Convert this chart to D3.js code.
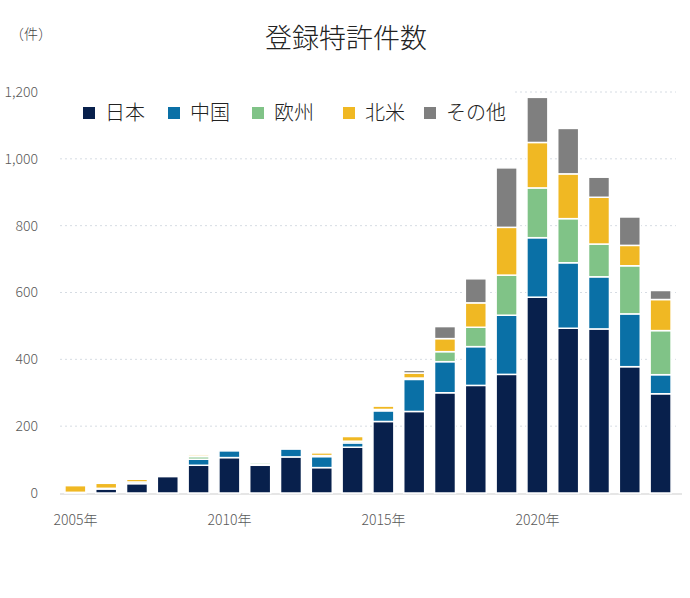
<!DOCTYPE html>
<html>
<head>
<meta charset="utf-8">
<script src="https://cdn.jsdelivr.net/npm/d3@7"></script>
<style>
  body { margin: 0; background: #fff; }
  svg text { font-family: "Noto Sans CJK JP", "Noto Sans", sans-serif; }
</style>
</head>
<body>
<div id="chart"></div>
<script>
const years = [2005, 2006, 2007, 2008, 2009, 2010, 2011, 2012, 2013, 2014,
               2015, 2016, 2017, 2018, 2019, 2020, 2021, 2022, 2023, 2024];
const regions = ['日本', '中国', '欧州', '北米', 'その他'];
const japan        = [2, 12, 28, 49, 83, 106, 83, 108, 76, 137, 214, 244, 300, 322, 355, 586, 493, 491, 378, 297];
const china        = [0, 2, 5, 0, 18, 20, 4, 24, 33, 13, 32, 96, 93, 116, 177, 178, 196, 156, 158, 57];
const europe       = [0, 0, 0, 0, 8, 0, 5, 3, 3, 5, 4, 4, 30, 58, 120, 149, 132, 98, 144, 132];
const northAmerica = [20, 15, 8, 0, 5, 0, 0, 0, 8, 14, 10, 15, 39, 73, 143, 136, 134, 140, 61, 93];
const others       = [0, 0, 0, 0, 0, 0, 0, 0, 0, 0, 0, 8, 36, 72, 178, 135, 136, 60, 85, 27];
const yTicks = [0, 200, 400, 600, 800, 1000, 1200];
const xLabelYears = [2005, 2010, 2015, 2020];

const colors = ['#08204c', '#0a70a6', '#80c387', '#f0b823', '#7f7f7f'];

const width = 690, height = 598;
const svg = d3.select('#chart').append('svg')
    .attr('width', width)
    .attr('height', height);

// build table for stack
const table = years.map((y, i) => ({
    year: y,
    '日本': japan[i], '中国': china[i], '欧州': europe[i], '北米': northAmerica[i], 'その他': others[i]
}));
const series = d3.stack().keys(regions)(table);

const x = d3.scaleBand().domain(years).range([60, 676]).paddingInner(0.32).paddingOuter(0.16);
const y = d3.scaleLinear().domain([0, 1200]).range([493, 92]);

// gridlines
svg.append('g').selectAll('line')
    .data(yTicks.filter(d => d > 0))
    .enter().append('line')
    .attr('x1', 60).attr('x2', 676)
    .attr('y1', d => y(d)).attr('y2', d => y(d))
    .attr('stroke', '#d6dce3')
    .attr('stroke-width', 1)
    .attr('stroke-dasharray', '2,3');

// baseline
svg.append('line')
    .attr('x1', 60).attr('x2', 682)
    .attr('y1', y(0) + 1).attr('y2', y(0) + 1)
    .attr('stroke', '#e6e6e6')
    .attr('stroke-width', 2);

// y axis
const yAxis = svg.append('g')
    .attr('transform', 'translate(38,0)')
    .call(d3.axisLeft(y).tickValues(yTicks).tickFormat(d3.format(',')).tickSize(0).tickPadding(0));
yAxis.select('.domain').remove();
yAxis.selectAll('text')
    .attr('fill', '#595959')
    .style('font-size', '14px')
    .style('font-weight', 300);

// x axis
const xAxis = svg.append('g')
    .attr('transform', 'translate(0,515)')
    .call(d3.axisBottom(x).tickValues(xLabelYears).tickFormat(d => d + '年').tickSize(0).tickPadding(0));
xAxis.select('.domain').remove();
xAxis.selectAll('text')
    .attr('fill', '#595959')
    .style('font-size', '14px')
    .style('font-weight', 300);

// bars
svg.append('g').selectAll('g')
    .data(series)
    .enter().append('g')
    .attr('fill', (d, i) => colors[i])
    .selectAll('rect')
    .data(d => d.filter(s => s[1] - s[0] > 0))
    .enter().append('rect')
    .attr('x', d => x(d.data.year))
    .attr('width', x.bandwidth())
    .attr('y', d => y(d[1]))
    .attr('height', d => y(d[0]) - y(d[1]))
    .attr('stroke', '#fff')
    .attr('stroke-width', 1.5);

// legend
svg.append('rect')
    .attr('x', 60).attr('y', 82)
    .attr('width', 455).attr('height', 55)
    .attr('fill', '#fff');

const legendX = [83, 168, 252, 343, 424];
const legend = svg.append('g').selectAll('g')
    .data(regions)
    .enter().append('g')
    .attr('transform', (d, i) => `translate(${legendX[i]},0)`);
legend.append('rect')
    .attr('x', 0).attr('y', 107)
    .attr('width', 12).attr('height', 12)
    .attr('fill', (d, i) => colors[i]);
legend.append('text')
    .attr('x', 22).attr('y', 113)
    .attr('dy', '0.36em')
    .attr('fill', '#222')
    .style('font-size', '20px')
    .style('font-weight', 300)
    .text(d => d);

// title and unit
svg.append('text')
    .attr('x', 346).attr('y', 38)
    .attr('dy', '0.36em')
    .attr('text-anchor', 'middle')
    .attr('fill', '#222')
    .style('font-size', '27px')
    .style('font-weight', 300)
    .text('登録特許件数');

svg.append('text')
    .attr('x', 10).attr('y', 34)
    .attr('dy', '0.36em')
    .attr('fill', '#444')
    .style('font-size', '14px')
    .style('font-weight', 300)
    .text('（件）');
</script>
</body>
</html>
